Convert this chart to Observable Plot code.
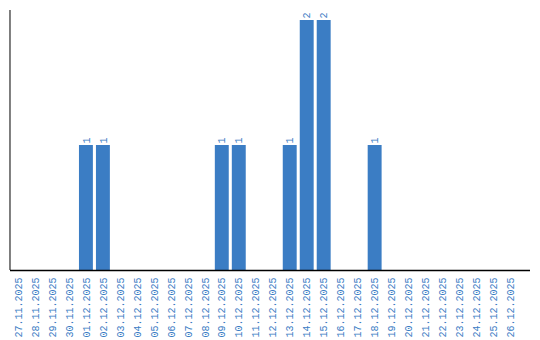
<!DOCTYPE html>
<html><head><meta charset="utf-8">
<script src="https://cdn.jsdelivr.net/npm/d3@7"></script>
<script src="https://cdn.jsdelivr.net/npm/@observablehq/plot@0.6"></script>
<style>body{margin:0;background:#fff}</style>
</head><body><div id="chart"></div>
<script>
const dates = ["27.11.2025","28.11.2025","29.11.2025","30.11.2025","01.12.2025","02.12.2025","03.12.2025","04.12.2025","05.12.2025","06.12.2025","07.12.2025","08.12.2025","09.12.2025","10.12.2025","11.12.2025","12.12.2025","13.12.2025","14.12.2025","15.12.2025","16.12.2025","17.12.2025","18.12.2025","19.12.2025","20.12.2025","21.12.2025","22.12.2025","23.12.2025","24.12.2025","25.12.2025","26.12.2025"];
const counts = [0,0,0,0,1,1,0,0,0,0,0,0,1,1,0,0,1,2,2,0,0,1,0,0,0,0,0,0,0,0];
const data = dates.map((d,i)=>({date:d, count:counts[i]}));
const nonzero = data.filter(d=>d.count>0);
const blue = "#3b7dc4";
const font = "Liberation Mono";
const chart = Plot.plot({
  width: 540, height: 340,
  marginTop: 10, marginLeft: 10, marginRight: 10, marginBottom: 70,
  style: {fontFamily: font, fontSize: "10px", background: "#fff"},
  x: {domain: dates, range: [9.5, 519], paddingInner: 0.18, paddingOuter: 0.09, align: 0.5, round: false},
  y: {domain: [0, 2.08], axis: null},
  marks: [
    Plot.barY(nonzero, {x: "date", y: "count", fill: blue}),
    Plot.text(nonzero, {x: "date", y: "count", text: d=>String(d.count), rotate: -90, textAnchor: "start", dy: -2, fill: blue, fontFamily: font, fontSize: 10}),
    Plot.axisX({tickSize: 0, tickRotate: -90, tickPadding: 7, fill: blue, label: null, fontFamily: font, fontSize: 10}),
    Plot.ruleY([0], {stroke: "#000", strokeWidth: 1.5}),
    Plot.ruleX([0], {x: () => dates[0], dx: -8.5, y1: 0, y2: 2.08, stroke: "#000", strokeWidth: 1})
  ]
});
document.getElementById("chart").appendChild(chart);
</script></body></html>
